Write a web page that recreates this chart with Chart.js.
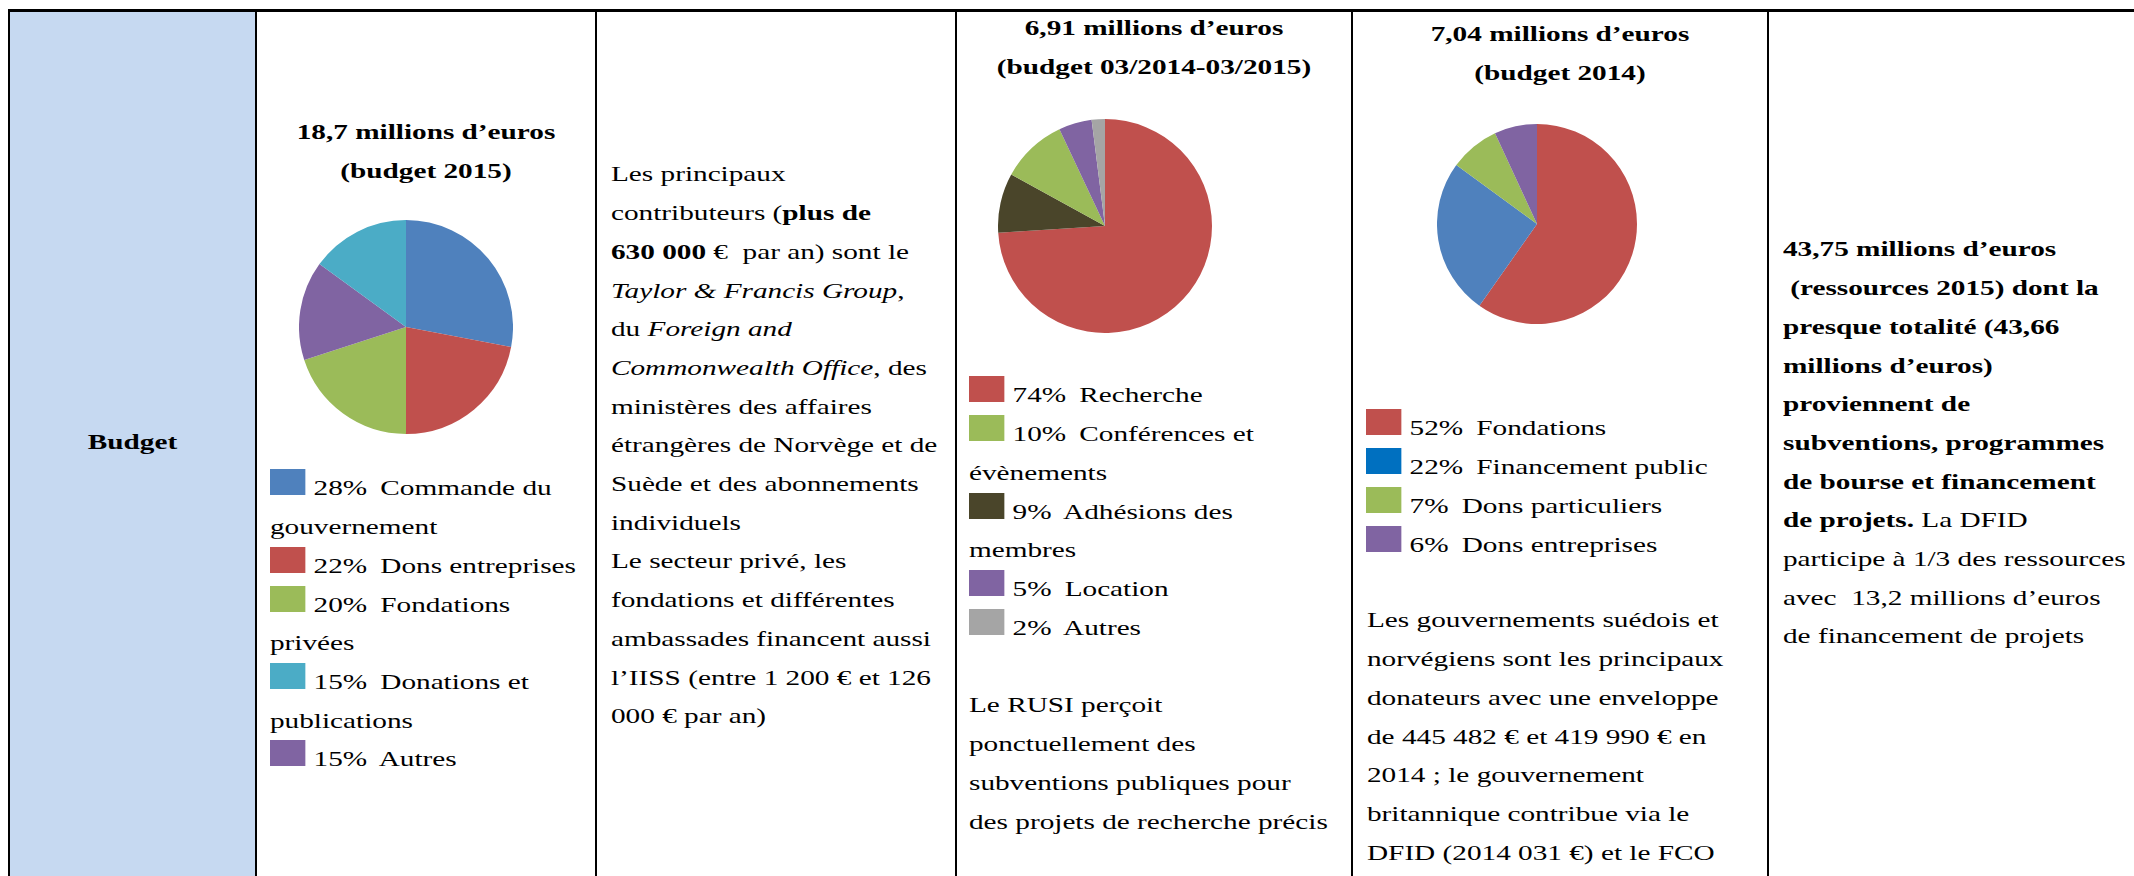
<!DOCTYPE html>
<html><head><meta charset="utf-8">
<script src="https://cdn.jsdelivr.net/npm/chart.js@4.4.1/dist/chart.umd.min.js"></script>
<style>
html,body{margin:0;padding:0;background:#fff;}
#page{position:relative;width:2134px;height:876px;overflow:hidden;font-family:'Liberation Serif','Times New Roman',Times,serif;font-size:21.5px;line-height:38.7px;color:#000;}
.blk{position:absolute;transform-origin:0 0;transform:scaleX(1.36);}
.nw{white-space:nowrap;}
.b{font-weight:bold;}
.sw{display:inline-block;width:26px;height:26px;vertical-align:baseline;margin-right:6px;}
.rule{position:absolute;background:#000;}
canvas{position:absolute;}
</style></head><body><div id="page"></div>
<script>
// ---------- data ----------
const rowLabel = 'Budget';

// pie 1 (slices in drawing order, clockwise from top)
const pie1Title = ['18,7 millions d’euros', '(budget 2015)'];
const pie1Labels = ['Commande du gouvernement', 'Dons entreprises', 'Fondations privées', 'Autres', 'Donations et publications'];
const pie1Values = [28, 22, 20, 15, 15];
const pie1Colors = ['#4F81BD', '#C0504D', '#9BBB59', '#8064A2', '#4BACC6'];
const pie1LegendOrder = [0, 1, 2, 4, 3];

// pie 2
const pie2Title = ['6,91 millions d’euros', '(budget 03/2014-03/2015)'];
const pie2Labels = ['Recherche', 'Adhésions des membres', 'Conférences et évènements', 'Location', 'Autres'];
const pie2Values = [74, 9, 10, 5, 2];
const pie2Colors = ['#C0504D', '#4A452A', '#9BBB59', '#8064A2', '#A5A5A5'];
const pie2LegendOrder = [0, 2, 1, 3, 4];

// pie 3
const pie3Title = ['7,04 millions d’euros', '(budget 2014)'];
const pie3Labels = ['Fondations', 'Financement public', 'Dons particuliers', 'Dons entreprises'];
const pie3Values = [52, 22, 7, 6];
const pie3Colors = ['#C0504D', '#4F81BD', '#9BBB59', '#8064A2'];
const pie3LegendColors = ['#C0504D', '#0070C0', '#9BBB59', '#8064A2'];
const pie3LegendOrder = [0, 1, 2, 3];

const col2Lines = [
  'Les principaux',
  'contributeurs (<b>plus de</b>',
  '<b>630 000</b> €&nbsp; par an) sont le',
  '<i>Taylor &amp; Francis Group</i>,',
  'du <i>Foreign and</i>',
  '<i>Commonwealth Office</i>, des',
  'ministères des affaires',
  'étrangères de Norvège et de',
  'Suède et des abonnements',
  'individuels',
  'Le secteur privé, les',
  'fondations et différentes',
  'ambassades financent aussi',
  'l’IISS (entre 1 200 € et 126',
  '000 € par an)'
];
const col3Lines = [
  'Le RUSI perçoit',
  'ponctuellement des',
  'subventions publiques pour',
  'des projets de recherche précis'
];
const col4Lines = [
  'Les gouvernements suédois et',
  'norvégiens sont les principaux',
  'donateurs avec une enveloppe',
  'de 445 482 € et 419 990 € en',
  '2014 ; le gouvernement',
  'britannique contribue via le',
  'DFID (2014 031 €) et le FCO'
];
const col5Lines = [
  '<b>43,75 millions d’euros</b>',
  '<b>&nbsp;(ressources 2015) dont la</b>',
  '<b>presque totalité (43,66</b>',
  '<b>millions d’euros)</b>',
  '<b>proviennent de</b>',
  '<b>subventions, programmes</b>',
  '<b>de bourse et financement</b>',
  '<b>de projets.</b> La DFID',
  'participe à 1/3 des ressources',
  'avec&nbsp; 13,2 millions d’euros',
  'de financement de projets'
];

// ---------- layout ----------
const SX = 1.36;
const BASE = 26.6;
const page = document.getElementById('page');

function rule(x, y, w, h) {
  const d = document.createElement('div');
  d.className = 'rule';
  Object.assign(d.style, {left: x + 'px', top: y + 'px', width: w + 'px', height: h + 'px'});
  page.appendChild(d);
}
function block(left, baseline, widthScaled, html, extra, align) {
  const d = document.createElement('div');
  d.className = 'blk ' + (extra || '');
  d.style.left = left + 'px';
  d.style.top = (baseline - BASE) + 'px';
  d.style.width = (widthScaled / SX) + 'px';
  if (align) d.style.textAlign = align;
  d.innerHTML = html;
  page.appendChild(d);
}
function legendHTML(labels, values, colors, order) {
  return order.map(i =>
    '<div><span class="sw" style="background:' + colors[i] + '"></span>' +
    values[i] + '%\u2009 ' + labels[i] + '</div>').join('');
}

// background of first column
const bg = document.createElement('div');
Object.assign(bg.style, {position: 'absolute', left: '10px', top: '11px', width: '245px', height: '870px', background: '#C6D9F1'});
page.appendChild(bg);

// table rules
rule(8, 9, 2126, 3);
[8, 255, 595, 955, 1351, 1767].forEach(x => rule(x, 9, 2, 870));

// row label
block(10, 450, 245, '<span class="b">' + rowLabel + '</span>', 'nw', 'center');

// titles
block(257, 140, 338, pie1Title.join('<br>'), 'nw b', 'center');
block(957, 36, 394, pie2Title.join('<br>'), 'nw b', 'center');
block(1353, 42, 414, pie3Title.join('<br>'), 'nw b', 'center');

// legends
block(270, 496, 318, legendHTML(pie1Labels, pie1Values, pie1Colors, pie1LegendOrder));
block(969, 403, 355, legendHTML(pie2Labels, pie2Values, pie2Colors, pie2LegendOrder));
block(1366, 436, 385, legendHTML(pie3Labels, pie3Values, pie3LegendColors, pie3LegendOrder));

// paragraphs
block(611, 182, 340, col2Lines.join('<br>'), 'nw');
block(969, 713, 380, col3Lines.join('<br>'), 'nw');
block(1367, 628, 395, col4Lines.join('<br>'), 'nw');
block(1783, 257, 360, col5Lines.join('<br>'), 'nw');

// ---------- pies ----------
function pie(x, y, size, labels, values, colors) {
  const c = document.createElement('canvas');
  c.width = size; c.height = size;
  c.style.left = x + 'px'; c.style.top = y + 'px';
  c.style.width = size + 'px'; c.style.height = size + 'px';
  page.appendChild(c);
  new Chart(c, {
    type: 'pie',
    data: {labels: labels, datasets: [{data: values, backgroundColor: colors, borderWidth: 0}]},
    options: {
      responsive: false, animation: false, devicePixelRatio: 1,
      layout: {padding: 0},
      plugins: {legend: {display: false}, tooltip: {enabled: false}}
    }
  });
}
pie(299, 220, 214, pie1Labels, pie1Values, pie1Colors);
pie(998, 119, 214, pie2Labels, pie2Values, pie2Colors);
pie(1437, 124, 200, pie3Labels, pie3Values, pie3Colors);
</script>
</body></html>
